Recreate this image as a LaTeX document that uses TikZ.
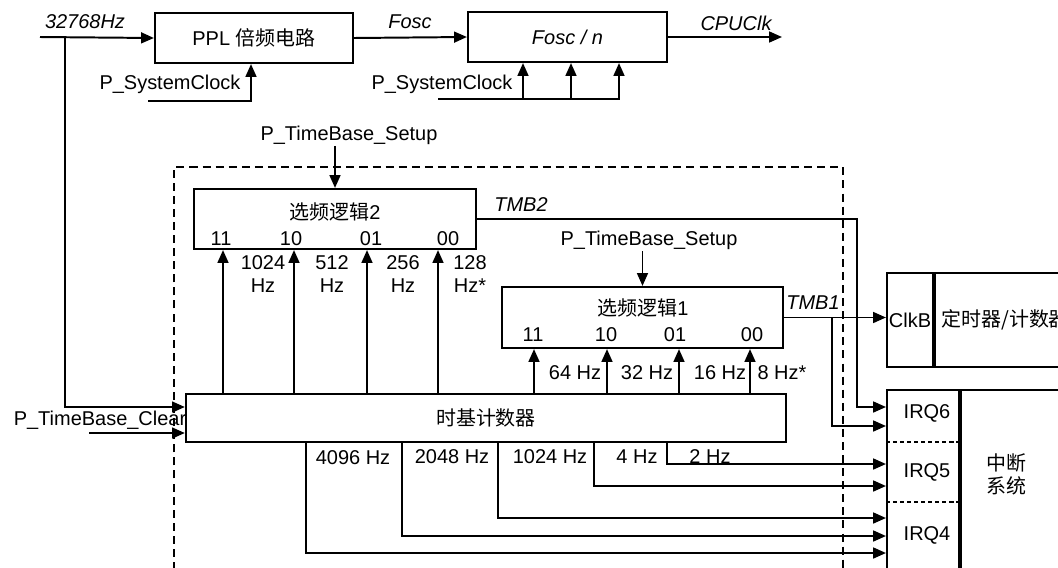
\documentclass[tikz,border=0pt]{standalone}
\usepackage{fontspec}
\setmainfont{Liberation Sans}
\newfontfamily\cjk{Noto Sans CJK SC}
\usetikzlibrary{arrows.meta, positioning}
\tikzset{
    blk/.style={draw, line width=1.5pt, inner sep=0pt},
    arr/.style={-{Triangle[length=3.2mm, width=2.7mm]}, line width=1.4pt},
    wire/.style={line width=1.4pt},
    lbl/.style={inner sep=1pt, align=center},
    sig/.style={inner sep=1pt, font=\fontsize{14.2pt}{17pt}\selectfont\itshape}
}

\begin{document}
\begin{tikzpicture}[x=0.025cm, y=-0.025cm, font=\fontsize{14.2pt}{17pt}\selectfont]
    \useasboundingbox (0,0) rectangle (1058,567);
    \clip (0,0) rectangle (1058,567);

    % clock chain
    \node [blk, minimum width=4.95cm, minimum height=1.25cm] (ppl) at (254,38) {PPL {\cjk 倍频电路}};
    \node [blk, minimum width=4.975cm, minimum height=1.25cm] (div) at (567.5,37) {\itshape Fosc / n};
    \coordinate (src) at (40,37);
    \coordinate (tap) at (65,37);
    \coordinate (cpu) at (782,37);
    \node [sig] (f32k) at (85,22) {32768Hz};
    \node [sig] (fosc) at (410,22) {Fosc};
    \node [sig] (cpuclk) at (736,23) {CPUClk};
    \node [lbl] (sysclk1) at (170,84) {P\_SystemClock};
    \node [lbl] (sysclk2) at (442,84) {P\_SystemClock};
    \coordinate (sc1) at (148,101);
    \coordinate (sc2) at (438,99);

    \draw [arr] (src) -- (ppl.west);
    \draw [arr] (ppl.east) -- (div.west);
    \draw [arr] (div.east) -- (cpu);
    \draw [arr] (sc1) -| (ppl.south -| 251,0);
    \foreach \x in {523,571,619}
        \draw [arr] (sc2) -| (div.south -| \x,0);

    % time base block
    \draw [wire, line width=1.3pt, dash pattern=on 5.7pt off 3.6pt] (174,570) |- (843,167) -- (843,570);

    \node [blk, minimum width=7.05cm, minimum height=1.5cm] (sel2) at (335,219) {};
    \node [blk, minimum width=7.025cm, minimum height=1.525cm] (sel1) at (642.5,317.5) {};
    \node [blk, minimum width=15cm, minimum height=1.2cm] (cnt) at (486,418) {\cjk 时基计数器};

    \node [lbl] (sel2t) at (335,212) {{\cjk 选频逻辑}2};
    \node [lbl] (sel1t) at (643,308) {{\cjk 选频逻辑}1};
    \foreach \c/\x in {11/221,10/291,01/371,00/448}
        \node [lbl] (s2c\c) at (\x,239) {\c};
    \foreach \c/\x in {11/533,10/606,01/675,00/752}
        \node [lbl] (s1c\c) at (\x,335) {\c};

    \node [lbl] (setup2) at (349,135) {P\_TimeBase\_Setup};
    \node [lbl] (setup1) at (649,240) {P\_TimeBase\_Setup};
    \draw [arr] (setup2.south -| sel2.north) -- (sel2.north);
    \draw [arr] (setup1.south -| sel1.north) -- (sel1.north);

    % counter taps up
    \foreach \x in {223,294,367,438}
        \draw [arr] (cnt.north -| \x,0) -- (sel2.south -| \x,0);
    \foreach \x in {534,607,679,750}
        \draw [arr] (cnt.north -| \x,0) -- (sel1.south -| \x,0);
    \node [lbl] (h1024) at (263,274) {1024\\Hz};
    \node [lbl] (h512) at (332,274) {512\\Hz};
    \node [lbl] (h256) at (403,274) {256\\Hz};
    \node [lbl] (h128) at (470,274) {128\\Hz*};
    \node [lbl] (h64) at (575,373) {64 Hz};
    \node [lbl] (h32) at (647,373) {32 Hz};
    \node [lbl] (h16) at (720,373) {16 Hz};
    \node [lbl] (h8) at (782,373) {8 Hz*};

    % counter inputs
    \node [lbl] (clear) at (100,420) {P\_TimeBase\_Clear};
    \coordinate (clrin) at (89,433);
    \draw [arr] (tap) |- (cnt.west |- 0,407);
    \draw [arr] (clrin) -- (cnt.west |- clrin);

    % timer and interrupt
    \node [blk, minimum width=1.15cm, minimum height=2.35cm] (clkb) at (910,320) {ClkB};
    \node [blk, minimum width=3.5cm, minimum height=2.35cm, right=0pt of clkb] (tmr) {\cjk 定时器/计数器};
    \node [blk, minimum width=1.8cm, minimum height=5.775cm, anchor=north west] (irq) at (886,389) {};
    \node [blk, minimum width=2.875cm, minimum height=5.775cm, right=0pt of irq] (intc) {};
    \draw [line width=1.1pt, dash pattern=on 3pt off 2pt] (irq.west |- 0,442) -- (irq.east |- 0,442);
    \draw [line width=1.1pt, dash pattern=on 3pt off 2pt] (irq.west |- 0,502) -- (irq.east |- 0,502);
    \node [lbl] (irq6) at (927,413) {IRQ6};
    \node [lbl] (irq5) at (927,472) {IRQ5};
    \node [lbl] (irq4) at (927,535) {IRQ4};
    \node [lbl, font=\fontsize{14.2pt}{16.5pt}\selectfont\cjk] (intlbl) at (1006,474) {中断\\系统};

    \node [sig] (tmb2) at (521,205) {TMB2};
    \node [sig] (tmb1) at (813,303) {TMB1};
    \draw [arr] (sel2.east) -| (857,407) -- (irq.west |- 0,407);
    \draw [arr] (sel1.east) -- (clkb.west |- sel1.east);
    \coordinate (tap1) at (832,317.5);
    \draw [arr] (tap1) |- (irq.west |- 0,426);

    % counter outputs down
    \foreach \x/\y in {306/553,402/536,498/518,594/486,667/464}
        \draw [arr] (cnt.south -| \x,0) |- (irq.west |- 0,\y);
    \node [lbl] (h4096) at (353,458) {4096 Hz};
    \node [lbl] (h2048) at (452,457) {2048 Hz};
    \node [lbl] (h1024b) at (550,457) {1024 Hz};
    \node [lbl] (h4) at (637,457) {4 Hz};
    \node [lbl] (h2) at (710,457) {2 Hz};
\end{tikzpicture}
\end{document}
